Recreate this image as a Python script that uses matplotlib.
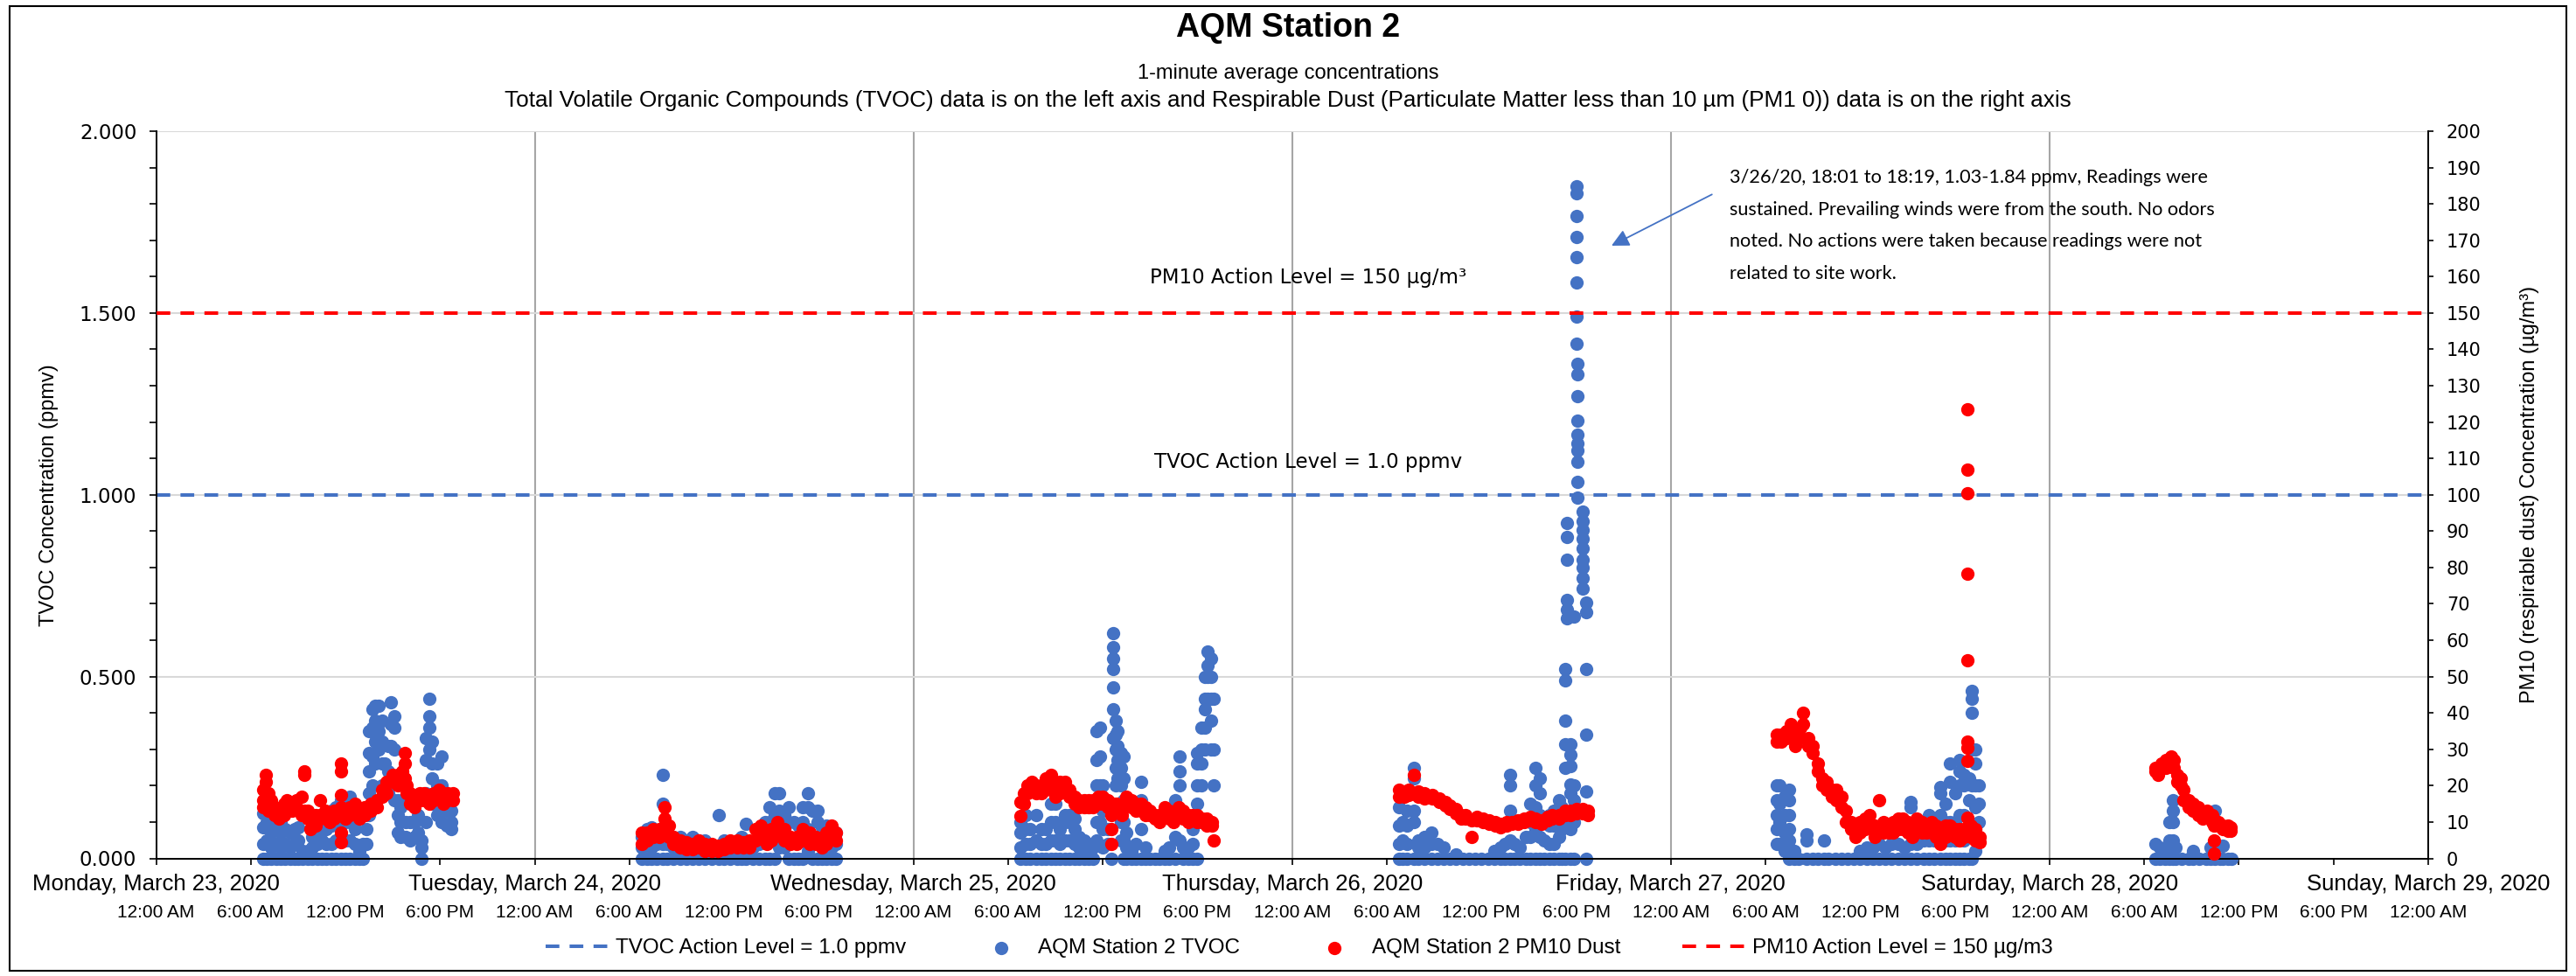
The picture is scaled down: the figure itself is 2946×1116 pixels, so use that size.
import numpy as np
import matplotlib.pyplot as plt
from matplotlib.ticker import MultipleLocator, FormatStrFormatter
from matplotlib.patches import Rectangle

plt.rcParams['font.family'] = ['Liberation Sans', 'DejaVu Sans']

# hours since Monday 3/23/2020 00:00, 1-minute readings
# TVOC (ppmv), left axis
mon_tvoc = [
    (6.8, [0.0, 0.04, 0.085, 0.124]), (7.0, [0.0, 0.05, 0.10, 0.14]),
    (7.3, [0.0, 0.03, 0.07, 0.10]), (7.6, [0.0, 0.04, 0.08]),
    (7.9, [0.0, 0.03, 0.07, 0.10]), (8.2, [0.0, 0.04, 0.08]),
    (8.5, [0.0, 0.03, 0.07]), (8.8, [0.0, 0.04, 0.08]),
    (9.0, [0.0, 0.05, 0.085]), (9.3, [0.0, 0.02]), (9.6, [0.0, 0.02]),
    (9.9, [0.0, 0.03, 0.06]), (10.2, [0.0, 0.04, 0.08]),
    (10.5, [0.0, 0.05, 0.10]), (10.8, [0.0, 0.04, 0.08, 0.12]),
    (11.1, [0.0, 0.04, 0.09, 0.13]), (11.4, [0.0, 0.05, 0.10, 0.14]),
    (11.7, [0.0, 0.06, 0.12, 0.16]), (12.0, [0.0, 0.05, 0.10, 0.15]),
    (12.3, [0.0, 0.05, 0.10, 0.17]), (12.6, [0.0, 0.04, 0.08]),
    (12.9, [0.0, 0.02]), (13.1, [0.0, 0.04]), (13.3, [0.04, 0.08, 0.12]),
    (13.5, [0.12, 0.18, 0.24, 0.29, 0.35]), (13.7, [0.20, 0.28, 0.36, 0.41]),
    (13.9, [0.26, 0.32, 0.38, 0.42]), (14.1, [0.30, 0.35, 0.42]),
    (14.3, [0.20, 0.26, 0.32, 0.38]), (14.5, [0.20, 0.26]),
    (14.7, [0.18, 0.24, 0.31]), (14.9, [0.31, 0.37, 0.43]),
    (15.1, [0.16, 0.30, 0.36, 0.39]), (15.3, [0.07, 0.12, 0.16]),
    (15.5, [0.06, 0.10, 0.14]), (15.8, [0.06, 0.10, 0.16]),
    (16.1, [0.05, 0.10, 0.15]), (16.4, [0.06, 0.10]), (16.6, [0.07, 0.12]),
    (16.8, [0.0, 0.03, 0.05]), (17.1, [0.10, 0.18, 0.27, 0.33]),
    (17.3, [0.30, 0.36, 0.39, 0.44]), (17.5, [0.15, 0.22, 0.26, 0.32]),
    (17.8, [0.12, 0.20, 0.26]), (18.1, [0.10, 0.15, 0.20, 0.28]),
    (18.4, [0.09, 0.13, 0.16]), (18.7, [0.08, 0.10, 0.13]),
]
tue_tvoc = [
    (30.8, [0.0, 0.03, 0.06]), (31.1, [0.0, 0.04, 0.08]),
    (31.4, [0.0, 0.03, 0.085]), (31.7, [0.0, 0.04, 0.06]),
    (32.1, [0.0, 0.04, 0.15, 0.23]), (32.4, [0.0, 0.04, 0.07]),
    (32.8, [0.0, 0.03, 0.06]), (33.2, [0.0, 0.04, 0.06]),
    (33.6, [0.0, 0.03, 0.05]), (34.0, [0.0, 0.04, 0.06]),
    (34.4, [0.0, 0.03, 0.05]), (34.8, [0.0, 0.03, 0.05]), (35.2, [0.0, 0.03]),
    (35.65, [0.0, 0.03, 0.12]), (36.0, [0.0, 0.03, 0.05]), (36.4, [0.0, 0.03]),
    (36.8, [0.0, 0.04]), (37.1, [0.0, 0.03, 0.06]), (37.4, [0.0, 0.04, 0.095]),
    (37.8, [0.0, 0.03]), (38.2, [0.0, 0.04, 0.06]), (38.6, [0.0, 0.05, 0.10]),
    (38.9, [0.0, 0.05, 0.10, 0.14]), (39.2, [0.0, 0.06, 0.12, 0.18]),
    (39.5, [0.03, 0.08, 0.13, 0.18]), (39.8, [0.03, 0.08, 0.12]),
    (40.1, [0.0, 0.05, 0.10, 0.14]), (40.4, [0.0, 0.05, 0.10]),
    (40.7, [0.0, 0.05, 0.09]), (41.0, [0.0, 0.05, 0.10, 0.14]),
    (41.3, [0.02, 0.08, 0.14, 0.18]), (41.6, [0.0, 0.06, 0.13]),
    (41.9, [0.0, 0.05, 0.10, 0.13]), (42.2, [0.0, 0.04, 0.085]),
    (42.5, [0.0, 0.04, 0.09]), (42.8, [0.0, 0.03, 0.085]),
    (43.1, [0.0, 0.04, 0.07]),
]
wed_tvoc = [
    (54.8, [0.0, 0.03, 0.07, 0.10]), (55.1, [0.0, 0.04, 0.08, 0.12]),
    (55.4, [0.0, 0.04, 0.08]), (55.8, [0.0, 0.05, 0.12]),
    (56.1, [0.0, 0.04, 0.08]), (56.4, [0.0, 0.04, 0.08]),
    (56.7, [0.0, 0.05, 0.10, 0.15]), (57.0, [0.0, 0.05, 0.10, 0.15]),
    (57.3, [0.0, 0.04, 0.08]), (57.6, [0.0, 0.05, 0.10, 0.12]),
    (57.9, [0.0, 0.05, 0.10, 0.12]), (58.2, [0.0, 0.04, 0.08, 0.11]),
    (58.5, [0.0, 0.03, 0.06]), (58.8, [0.0, 0.03, 0.05]),
    (59.1, [0.0, 0.03, 0.04]), (59.4, [0.0, 0.03, 0.04]),
    (59.6, [0.05, 0.10, 0.20, 0.27, 0.35]), (59.8, [0.10, 0.20, 0.28, 0.36]),
    (60.0, [0.03, 0.08, 0.13, 0.20]), (60.3, [0.04, 0.08]), (60.55, [0.0]),
    (60.65, [0.33, 0.41, 0.47, 0.52, 0.55, 0.58, 0.62]),
    (60.8, [0.20, 0.25, 0.30, 0.34, 0.38]),
    (60.95, [0.15, 0.22, 0.27, 0.31, 0.35]),
    (61.15, [0.05, 0.10, 0.20, 0.25, 0.29]),
    (61.3, [0.0, 0.05, 0.10, 0.16, 0.22, 0.28]), (61.5, [0.0, 0.03, 0.07]),
    (61.8, [0.0, 0.02]), (62.1, [0.0, 0.04]), (62.4, [0.0, 0.08, 0.16, 0.21]),
    (62.7, [0.0, 0.03]), (63.0, [0.0]), (63.3, [0.0]), (63.6, [0.0]),
    (63.9, [0.0, 0.02]), (64.2, [0.0, 0.03]), (64.6, [0.0, 0.06, 0.16]),
    (64.85, [0.05, 0.20, 0.24, 0.28]), (65.1, [0.0, 0.03]), (65.4, [0.0, 0.03]),
    (65.7, [0.0, 0.04, 0.08]), (66.0, [0.0, 0.10, 0.15, 0.20, 0.26, 0.29]),
    (66.25, [0.10, 0.20, 0.26, 0.30, 0.36]),
    (66.45, [0.30, 0.36, 0.41, 0.44, 0.50]), (66.65, [0.44, 0.50, 0.53, 0.57]),
    (66.85, [0.30, 0.38, 0.44, 0.50, 0.55]), (67.0, [0.20, 0.30, 0.44]),
]
thu_tvoc = [
    (78.8, [0.0, 0.04, 0.09, 0.14]), (79.0, [0.0, 0.05, 0.10, 0.18]),
    (79.3, [0.0, 0.04, 0.09, 0.13]), (79.7, [0.0, 0.10, 0.13, 0.22, 0.25]),
    (80.0, [0.0, 0.03, 0.05]), (80.4, [0.0, 0.03, 0.06]),
    (80.8, [0.0, 0.04, 0.07]), (81.2, [0.0, 0.04]), (81.6, [0.0, 0.03]),
    (82.0, [0.0]), (82.4, [0.0, 0.01]), (82.8, [0.0]), (83.2, [0.0]),
    (83.6, [0.0]), (84.0, [0.0]), (84.4, [0.0]), (84.8, [0.0, 0.02]),
    (85.2, [0.0, 0.03]), (85.5, [0.0, 0.04]),
    (85.8, [0.0, 0.05, 0.13, 0.20, 0.23]), (86.1, [0.0, 0.04]),
    (86.4, [0.0, 0.03]), (86.8, [0.0, 0.06]), (87.1, [0.0, 0.06, 0.10, 0.15]),
    (87.4, [0.0, 0.08, 0.14, 0.20, 0.25]), (87.7, [0.0, 0.06, 0.12, 0.18, 0.22]),
    (88.0, [0.0, 0.05, 0.10]), (88.3, [0.0, 0.04, 0.09, 0.12]),
    (88.6, [0.0, 0.04, 0.09, 0.13]), (88.9, [0.0, 0.06, 0.12, 0.16]),
    (89.1, [0.0, 0.08, 0.14]),
    (89.3, [0.0, 0.10, 0.25, 0.315, 0.378, 0.49, 0.52]),
    (89.4, [0.66, 0.684, 0.71, 0.822, 0.885, 0.922]),
    (89.65, [0.0, 0.08, 0.18, 0.203, 0.253, 0.284, 0.315]),
    (89.85, [0.0, 0.10, 0.16, 0.20, 0.665]),
    (90.03, [1.848, 1.829, 1.766, 1.710, 1.654, 1.585, 1.491, 1.416]),
    (90.1, [1.36, 1.331, 1.272, 1.203, 1.166, 1.141, 1.122, 1.091, 1.035, 0.991]),
    (90.4, [0.953, 0.928, 0.903, 0.878, 0.853, 0.822, 0.80, 0.772, 0.741]),
    (90.66, [0.0, 0.184, 0.34, 0.52, 0.703, 0.678]),
]
fri_tvoc = [
    (102.7, [0.04, 0.08, 0.12, 0.16, 0.20]), (102.9, [0.04, 0.10, 0.15, 0.20]),
    (103.2, [0.02, 0.07, 0.12, 0.17]), (103.5, [0.0, 0.05, 0.08, 0.12, 0.16, 0.19]),
    (103.8, [0.0, 0.02]), (104.1, [0.0]), (104.6, [0.0, 0.05, 0.067]),
    (105.0, [0.0]), (105.3, [0.0]), (105.7, [0.0, 0.05]), (106.0, [0.0]),
    (106.4, [0.0]), (106.8, [0.0]), (107.2, [0.0]), (107.6, [0.0]),
    (108.0, [0.0, 0.02]), (108.4, [0.0, 0.03]), (108.8, [0.0, 0.03]),
    (109.2, [0.0, 0.04]), (109.6, [0.0, 0.03]), (110.0, [0.0, 0.04]),
    (110.4, [0.0, 0.04]), (110.8, [0.0, 0.03]), (111.2, [0.0, 0.04, 0.14, 0.156]),
    (111.6, [0.0, 0.04]), (112.0, [0.0, 0.05]), (112.35, [0.0, 0.05, 0.12]),
    (112.7, [0.0, 0.05, 0.10]), (113.1, [0.0, 0.05, 0.12, 0.18, 0.196]),
    (113.4, [0.0, 0.05, 0.10, 0.15]), (113.7, [0.0, 0.05, 0.10, 0.21, 0.26]),
    (114.0, [0.0, 0.05, 0.10, 0.18]), (114.3, [0.0, 0.06, 0.12, 0.20, 0.24, 0.27]),
    (114.6, [0.0, 0.05, 0.12, 0.20, 0.23]), (114.9, [0.0, 0.08, 0.16, 0.22]),
    (115.1, [0.0, 0.20, 0.30, 0.40, 0.44, 0.46]),
    (115.3, [0.02, 0.08, 0.14, 0.20, 0.26, 0.30]), (115.5, [0.05, 0.10, 0.15, 0.20]),
]
sat_tvoc = [
    (126.7, [0.0, 0.04]), (127.0, [0.0, 0.03]), (127.3, [0.0, 0.02]),
    (127.6, [0.0, 0.05, 0.10]), (127.8, [0.0, 0.05, 0.10, 0.13, 0.16]),
    (128.0, [0.0, 0.03]), (128.4, [0.0]), (128.8, [0.0]), (129.1, [0.0, 0.02]),
    (129.5, [0.0]), (129.9, [0.0]), (130.2, [0.0, 0.03]), (130.5, [0.0, 0.10, 0.13]),
    (130.8, [0.0]), (131.0, [0.0, 0.035]), (131.3, [0.0]), (131.55, [0.0]),
]

# PM10 dust (ug/m3), right axis
mon_pm10 = [
    (6.8, [14, 16, 19]), (6.95, [18, 21, 23]), (7.1, [13, 15, 18]),
    (7.3, [13, 16]), (7.5, [12, 14]), (7.8, [11, 13]), (8.1, [12, 15]),
    (8.3, [14, 16]), (8.6, [13, 15]), (8.9, [14, 16]), (9.2, [12, 17]),
    (9.4, [13, 23, 24]), (9.6, [11, 13]), (9.8, [8, 11]), (10.1, [9, 12]),
    (10.4, [12, 16]), (10.7, [11, 13]), (11.0, [10, 12]), (11.3, [11, 13]),
    (11.7, [4.5, 7, 12, 14, 17.5, 24, 26]), (12.0, [11, 13]), (12.3, [12, 14]),
    (12.6, [13, 15]), (12.9, [11, 13]), (13.2, [12, 14]), (13.6, [13, 15]),
    (14.0, [14, 16]), (14.3, [17, 19]), (14.6, [18, 21]), (15.0, [21, 23]),
    (15.3, [20, 23]), (15.6, [21, 24]), (15.75, [22, 26, 29]), (15.9, [18, 20]),
    (16.1, [15, 18]), (16.4, [14, 17]), (16.7, [16, 18]), (17.0, [16, 18]),
    (17.3, [15, 17]), (17.6, [16, 18]), (17.9, [17, 19]), (18.2, [15, 18]),
    (18.5, [16, 18]), (18.8, [16, 18]),
]
tue_pm10 = [
    (30.8, [4, 7]), (31.1, [5, 7]), (31.5, [6, 8]), (31.9, [6, 8]),
    (32.2, [8, 11, 14]), (32.5, [6, 9]), (32.8, [4, 6]), (33.2, [3, 5]),
    (33.6, [2.5, 4.5]), (34.0, [2.5, 4]), (34.4, [3, 5]), (34.8, [2, 4]),
    (35.2, [2, 4]), (35.6, [2, 3.5]), (36.0, [2.5, 4]), (36.4, [3, 5]),
    (36.8, [3, 5]), (37.2, [3, 4.5]), (37.6, [3, 5]), (38.0, [5, 8]),
    (38.3, [6, 9]), (38.7, [4, 7]), (39.0, [5, 8]), (39.4, [7, 10]),
    (39.8, [5, 8]), (40.2, [4, 6]), (40.6, [4, 6]), (41.0, [5, 8]),
    (41.4, [4, 7]), (41.8, [4, 6]), (42.2, [3, 5]), (42.5, [4, 7]),
    (42.8, [6, 9]), (43.1, [5, 7]),
]
wed_pm10 = [
    (54.8, [11.6, 15.6]), (55.0, [15, 18]), (55.2, [18, 20]), (55.5, [19, 21]),
    (55.8, [18, 20]), (56.1, [18, 20]), (56.4, [19, 22]), (56.7, [20, 23]),
    (57.0, [17, 19]), (57.3, [18, 21]), (57.6, [19, 21]), (57.9, [17, 19]),
    (58.2, [15, 17]), (58.5, [14, 16]), (58.8, [14, 16]), (59.1, [14, 16]),
    (59.4, [14, 16]), (59.7, [15, 17]), (60.0, [15, 17]), (60.3, [14, 16]),
    (60.55, [4, 8, 12]), (60.7, [13, 15]), (60.9, [13, 15]), (61.2, [12, 14]),
    (61.5, [15, 17]), (61.8, [14, 16]), (62.1, [13, 15]), (62.4, [13, 15]),
    (62.7, [12, 14]), (63.0, [12, 13]), (63.3, [11, 12]), (63.6, [10, 12]),
    (63.9, [12, 14]), (64.2, [11, 13]), (64.5, [10, 12]), (64.8, [12, 14]),
    (65.1, [11, 13]), (65.4, [10, 12]), (65.7, [11, 12]), (66.0, [10, 12]),
    (66.3, [10, 11]), (66.6, [9, 11]), (66.9, [9, 10]), (67.0, [5]),
]
thu_pm10 = [
    (78.8, [17, 19]), (79.1, [17, 18.5]), (79.4, [17.5, 19]), (79.7, [18, 23]),
    (80.0, [17, 18.5]), (80.4, [16.5, 18]), (80.9, [16.5, 17.5]),
    (81.3, [15.5, 16.5]), (81.7, [14.5, 15.5]), (82.0, [13.5, 14.5]),
    (82.4, [12.5, 13.5]), (82.7, [11, 12]), (83.0, [11, 12]), (83.4, [6, 10.5]),
    (83.7, [10.5, 11.5]), (84.1, [10, 11]), (84.5, [9.5, 10.5]), (84.85, [9, 10]),
    (85.2, [8.5, 9.5]), (85.6, [9, 10]), (85.95, [9.5, 10]), (86.3, [9.5, 10.5]),
    (86.7, [10, 11]), (87.1, [10.5, 11.5]), (87.4, [10, 11]), (87.8, [9.5, 10.5]),
    (88.2, [10.5, 11.5]), (88.5, [11, 12]), (88.9, [11, 12]), (89.3, [12, 13]),
    (89.65, [12, 13]), (90.0, [12.5, 13.5]), (90.4, [12.5, 13.5]), (90.76, [12, 13]),
]
fri_pm10 = [
    (102.7, [32, 34]), (103.0, [32, 34]), (103.3, [33, 35]), (103.6, [35, 37]),
    (103.9, [31, 33]), (104.2, [33, 36]), (104.4, [37, 40]), (104.7, [31, 33]),
    (105.0, [29, 31]), (105.3, [24, 26]), (105.6, [20, 22]), (105.9, [19, 21]),
    (106.2, [17, 19]), (106.5, [16, 19]), (106.8, [14, 17]), (107.1, [10, 13]),
    (107.4, [8, 10]), (107.7, [6, 9]), (108.0, [7, 10]), (108.3, [8, 11]),
    (108.6, [9, 12]), (108.9, [6, 9]), (109.2, [8, 16]), (109.5, [7, 10]),
    (109.8, [7, 9]), (110.1, [7, 10]), (110.4, [8, 11]), (110.7, [8, 11]),
    (111.0, [7, 10]), (111.3, [6, 9]), (111.6, [8, 11]), (111.9, [7, 10]),
    (112.2, [7, 9]), (112.5, [7, 10]), (112.8, [6, 9]), (113.1, [4, 7]),
    (113.4, [6, 9]), (113.7, [7, 9]), (114.0, [6, 8]), (114.3, [5, 8]),
    (114.6, [6, 8]),
    (114.78, [11.2, 26.8, 30.4, 32.1, 54.4, 78.4, 100.5, 107, 123.6]),
    (115.0, [6, 9]), (115.3, [5, 8]), (115.55, [4.5, 6]),
]
sat_pm10 = [
    (126.7, [24, 25]), (126.9, [23, 25]), (127.1, [25, 26]), (127.4, [25, 27]),
    (127.7, [26, 28]), (127.9, [25, 27]), (128.1, [21, 23]), (128.3, [20, 22]),
    (128.5, [16, 19]), (128.8, [14, 16]), (129.1, [13, 15]), (129.4, [12, 14]),
    (129.7, [11, 12]), (130.0, [12, 13]), (130.3, [10, 12]), (130.45, [1.3, 5, 9]),
    (130.7, [9, 10]), (131.0, [8, 9]), (131.3, [7.5, 9]), (131.5, [7.5, 8.5]),
]

tvoc_action = 1.0
pm10_action = 150

day_hours = [0, 24, 48, 72, 96, 120, 144]
day_labels = ['Monday, March 23, 2020', 'Tuesday, March 24, 2020',
              'Wednesday, March 25, 2020', 'Thursday, March 26, 2020',
              'Friday, March 27, 2020', 'Saturday, March 28, 2020',
              'Sunday, March 29, 2020']
tick_hours = list(range(0, 145, 6))
time_labels = ['12:00 AM', '6:00 AM', '12:00 PM', '6:00 PM'] * 6 + ['12:00 AM']

note = ("3/26/20, 18:01 to 18:19, 1.03-1.84 ppmv, Readings were\n"
        "sustained. Prevailing winds were from the south. No odors\n"
        "noted. No actions were taken because readings were not\n"
        "related to site work.")


def flatten(days):
    xs, ys = [], []
    for day in days:
        for h, vals in day:
            for v in vals:
                xs.append(h)
                ys.append(v)
    return np.array(xs), np.array(ys)


tvoc_x, tvoc_y = flatten([mon_tvoc, tue_tvoc, wed_tvoc, thu_tvoc, fri_tvoc, sat_tvoc])
pm10_x, pm10_y = flatten([mon_pm10, tue_pm10, wed_pm10, thu_pm10, fri_pm10, sat_pm10])

blue = '#4472C4'
red = '#FF0000'
W, H = 2946, 1116

fig = plt.figure(figsize=(W / 100, H / 100), dpi=100)
ax = fig.add_axes([178.5 / W, 1 - 981.5 / H, (2777 - 178.5) / W, (981.5 - 150) / H])
ax2 = ax.twinx()

ax.set_xlim(0, 144)
ax.set_ylim(0, 2)
ax2.set_ylim(0, 200)

# axes, ticks, grid
ax.set_xticks(tick_hours)
ax.set_xticklabels(time_labels)
ax.xaxis.set_minor_locator(MultipleLocator(24))
ax.xaxis.remove_overlapping_locs = False
ax.yaxis.set_major_locator(MultipleLocator(0.5))
ax.yaxis.set_minor_locator(MultipleLocator(0.1))
ax.yaxis.set_major_formatter(FormatStrFormatter('%.3f'))
ax2.yaxis.set_major_locator(MultipleLocator(10))

ax.grid(axis='y', which='major', color='#D9D9D9', lw=1.5)
ax.grid(axis='x', which='minor', color='#A6A6A6', lw=1.5)
ax.set_axisbelow(True)

ax.tick_params(axis='x', which='major', direction='out', length=5, width=1.2,
               labelsize=15, pad=33)
ax.tick_params(axis='x', which='minor', length=0)
ax.tick_params(axis='y', which='both', direction='out', length=6, width=1.2,
               labelsize=16.5, pad=10, labelfontfamily='DejaVu Sans')
ax2.tick_params(axis='y', direction='out', length=4, width=1.2,
                labelsize=15, pad=11, labelfontfamily='DejaVu Sans')

for a in (ax, ax2):
    a.spines['top'].set_visible(False)
    for s in a.spines.values():
        s.set_linewidth(1.4)
ax.spines['right'].set_visible(False)
ax2.spines['left'].set_visible(False)

for h, lab in zip(day_hours, day_labels):
    ax.annotate(lab, xy=(h, 0), xycoords=('data', 'axes fraction'),
                xytext=(0, -21.5), textcoords='offset points',
                ha='center', va='center', fontsize=18.5, annotation_clip=False)

# action levels
tvoc_line, = ax.plot([0, 144], [tvoc_action, tvoc_action], color=blue, lw=2.9,
                     dashes=(3.9, 2.9), zorder=2, label='TVOC Action Level = 1.0 ppmv')
pm_line, = ax2.plot([0, 144], [pm10_action, pm10_action], color=red, lw=2.9,
                    dashes=(3.9, 2.9), zorder=2, label='PM10 Action Level = 150 µg/m3')
ax.text(73, tvoc_action + 0.089, 'TVOC Action Level = 1.0 ppmv', ha='center',
        va='center', fontsize=16.5, family='DejaVu Sans')
ax2.text(73, pm10_action + 9.7, 'PM10 Action Level = 150 µg/m³', ha='center',
         va='center', fontsize=16.5, family='DejaVu Sans')

# readings
tvoc_sc = ax.scatter(tvoc_x, tvoc_y, s=121, color=blue, linewidths=0,
                     clip_on=False, zorder=3, label='AQM Station 2 TVOC')
pm_sc = ax2.scatter(pm10_x, pm10_y, s=121, color=red, linewidths=0,
                    clip_on=False, zorder=3, label='AQM Station 2 PM10 Dust')

# callout
ax.annotate('', xy=(92.1, 1.682), xytext=(98.74, 1.829),
            arrowprops=dict(arrowstyle='-|>', color=blue, lw=1.3, mutation_scale=30))
ax.text(99.7, 1.74, note, ha='left', va='center', fontsize=15.6, family='Lato',
        linespacing=2.05)

ax.set_ylabel('TVOC Concentration (ppmv)', fontsize=17)
ax.yaxis.set_label_coords(-0.0471, 0.5)
ax.yaxis.label.set_va('center')
ax2.set_ylabel('PM10 (respirable dust) Concentration (µg/m³)', fontsize=17)
ax2.yaxis.set_label_coords(1.0446, 0.5)
ax2.yaxis.label.set_va('center')

fig.text(0.5, 1 - 32 / H, 'AQM Station 2', ha='center', va='center',
         fontsize=27, fontweight='bold')
fig.text(0.5, 1 - 84 / H, '1-minute average concentrations', ha='center',
         va='center', fontsize=17)
fig.text(0.5, 1 - 115 / H, 'Total Volatile Organic Compounds (TVOC) data is on the left '
         'axis and Respirable Dust (Particulate Matter less than 10 µm (PM1 0)) data is '
         'on the right axis', ha='center', va='center', fontsize=18.8)

fig.legend([tvoc_line, tvoc_sc, pm_sc, pm_line],
           [h.get_label() for h in (tvoc_line, tvoc_sc, pm_sc, pm_line)],
           loc='center', bbox_to_anchor=(0.5044, 1 - 1084 / H), ncol=4,
           frameon=False, fontsize=17.5, handlelength=3.1, handletextpad=0.2,
           columnspacing=2.9, scatterpoints=1)

fig.add_artist(Rectangle((11 / W, 1 - 1110 / H), (2935 - 11) / W, (1110 - 7) / H,
                         transform=fig.transFigure, fill=False, edgecolor='black', lw=1.5))

fig.savefig('out.png', dpi=100)
